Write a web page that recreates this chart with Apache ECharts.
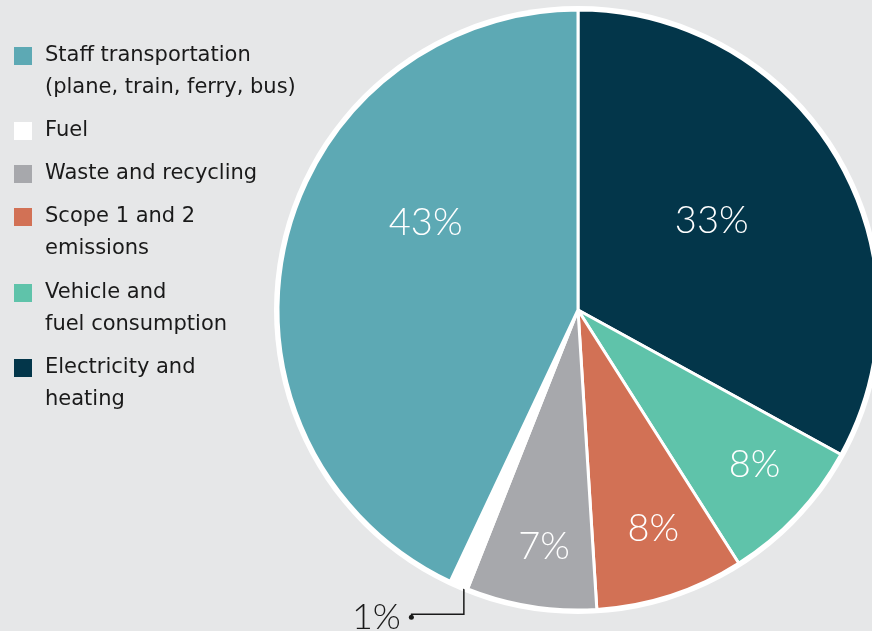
<!DOCTYPE html>
<html lang="en">
<head>
<meta charset="UTF-8">
<title>Emissions by source</title>
<script src="https://cdn.jsdelivr.net/npm/echarts@6.0.0/dist/echarts.min.js"></script>
<style>
    html, body { margin: 0; padding: 0; background: #e6e7e8; }
    #chart { width: 872px; height: 631px; }
</style>
</head>
<body>
<div id="chart"></div>
<script>
    // slices, clockwise from 12 o'clock
    const categories = ['Electricity and heating', 'Vehicle and fuel consumption', 'Scope 1 and 2 emissions',
        'Waste and recycling', 'Fuel', 'Staff transportation'];
    const shares = [33, 8, 8, 7, 1, 43];
    const colors = ['#03364a', '#5fc3aa', '#d27155', '#a7a8ac', '#ffffff', '#5da9b4'];

    // legend, top to bottom, with the wrapped text
    const legendOrder = ['Staff transportation', 'Fuel', 'Waste and recycling', 'Scope 1 and 2 emissions',
        'Vehicle and fuel consumption', 'Electricity and heating'];
    const legendText = ['Staff transportation\n(plane, train, ferry, bus)', 'Fuel', 'Waste and recycling',
        'Scope 1 and 2\nemissions', 'Vehicle and\nfuel consumption', 'Electricity and\nheating'];

    const chart = echarts.init(document.getElementById('chart'));

    const iconY = [56, 131, 174, 217, 293, 368];   // icon centres
    const legends = legendOrder.map((name, i) => {
        const twoLines = legendText[i].indexOf('\n') >= 0;
        return {
            data: [name],
            orient: 'vertical',
            left: 14,
            top: iconY[i] - (twoLines ? 48 : 16),
            padding: 0,
            icon: 'rect',
            itemWidth: 18,
            itemHeight: 18,
            itemStyle: { borderWidth: 0 },
            selectedMode: false,
            // leading empty line keeps the square level with the first line
            formatter: () => (twoLines ? '\n' : '') + legendText[i],
            textStyle: {
                fontFamily: 'DejaVu Sans',
                fontSize: 21,
                lineHeight: 32,
                color: '#1a1a1a',
                padding: [0, 0, 0, 8]
            }
        };
    });

    // nudges for the in-slice labels (designer placed them by hand)
    const labelShift = [[2, -11], [65, 50], [28, 73], [-10, 86], [0, 0], [-3, -54]];

    const pieData = categories.map((name, i) => {
        const item = { name: name, value: shares[i], itemStyle: { color: colors[i] } };
        if (name === 'Fuel') {
            item.label = {
                position: 'outside',
                formatter: '{v|{c}%}{gap|}{dot|}',
                rich: {
                    v: { fontFamily: 'Lato', fontWeight: 300, fontSize: 36, color: '#1a1a1a' },
                    gap: { width: 8 },
                    dot: { width: 5, height: 5, borderRadius: 2.5, backgroundColor: '#1a1a1a' }
                }
            };
            item.labelLine = { show: true, lineStyle: { color: '#1a1a1a', width: 1.5 } };
        }
        return item;
    });

    chart.setOption({
        backgroundColor: '#e6e7e8',
        animation: false,
        legend: legends,
        series: [{
            // white rim behind the pie
            type: 'pie',
            silent: true,
            center: [578, 310],
            radius: 304,
            label: { show: false },
            labelLine: { show: false },
            itemStyle: { color: '#ffffff' },
            data: [{ name: 'rim', value: 1 }],
            z: 1
        }, {
            type: 'pie',
            center: [578, 310],
            radius: 300,
            startAngle: 90,
            clockwise: true,
            avoidLabelOverlap: false,
            silent: true,
            z: 2,
            itemStyle: { borderColor: '#ffffff', borderWidth: 3 },
            label: {
                show: true,
                position: 'inside',
                formatter: '{c}%',
                fontFamily: 'Lato',
                fontWeight: 300,
                fontSize: 38,
                color: '#ffffff'
            },
            labelLine: { show: false },
            labelLayout: function (p) {
                if (categories[p.dataIndex] !== 'Fuel') {
                    return { dx: labelShift[p.dataIndex][0], dy: labelShift[p.dataIndex][1] };
                }
                const s = p.labelLinePoints[0];
                return {
                    x: s[0] - 45,
                    y: s[1] + 32,
                    align: 'right',
                    verticalAlign: 'middle',
                    labelLinePoints: [[s[0] + 5, s[1] - 7], [s[0] + 5, s[1] + 29], [s[0] - 48, s[1] + 29]]
                };
            },
            data: pieData
        }]
    });
</script>
</body>
</html>
